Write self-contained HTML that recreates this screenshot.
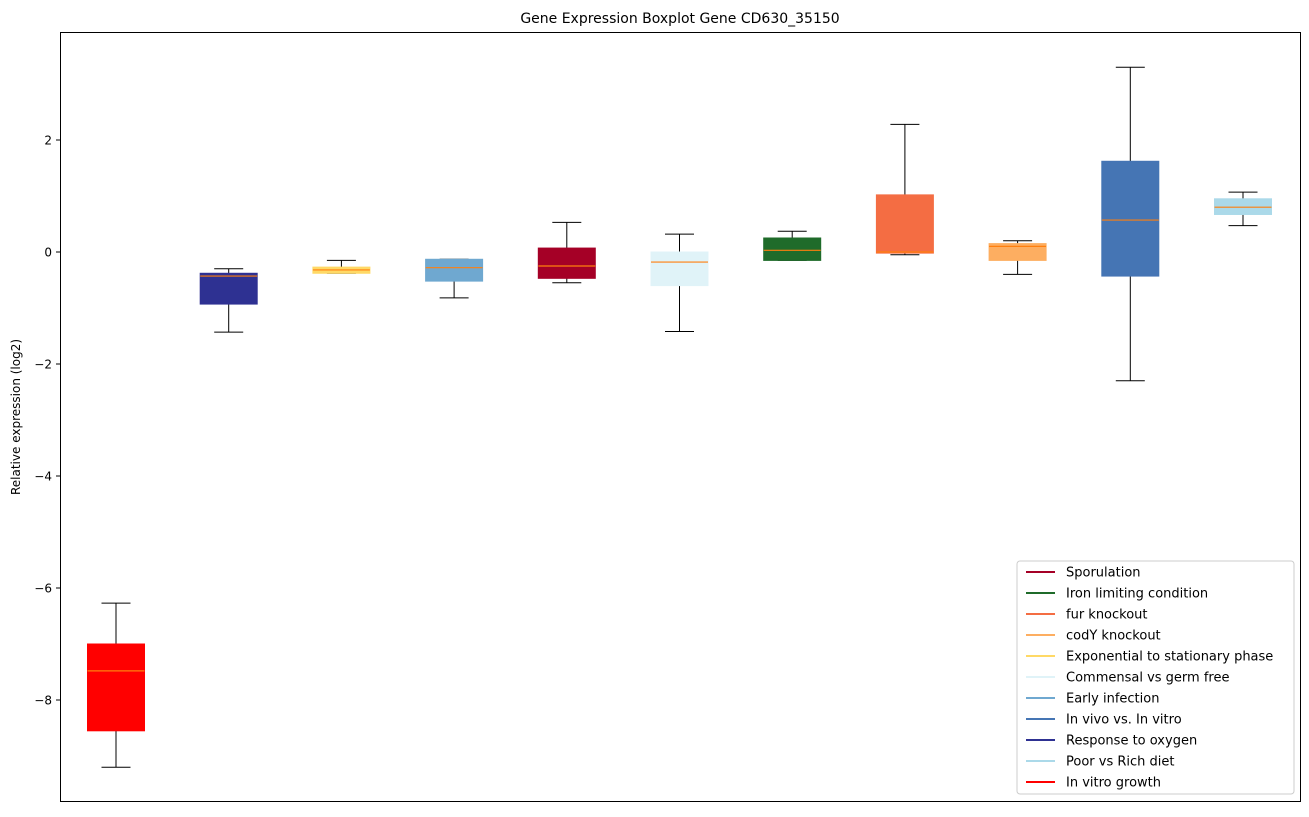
<!DOCTYPE html>
<html><head><meta charset="utf-8"><style>
body{margin:0;background:#fff;font-family:"Liberation Sans","DejaVu Sans",sans-serif}
svg text{font-family:"DejaVu Sans","Liberation Sans",sans-serif}
</style></head><body>
<svg id="chart" width="1309" height="812" xmlns="http://www.w3.org/2000/svg">
<rect width="1309" height="812" fill="#fff"/>
<text x="680" y="23" text-anchor="middle" font-size="14">Gene Expression Boxplot Gene CD630_35150</text>
<text transform="translate(20,417) rotate(-90)" text-anchor="middle" font-size="12">Relative expression (log2)</text>
<g id="boxes"></g>
<g id="yaxis"></g>
<rect x="60.5" y="32.5" width="1240" height="769" fill="none" stroke="#000" stroke-width="1"/>
<g id="legend"></g>
</svg>
<script>
const categories=["In vitro growth","Response to oxygen","Exponential to stationary phase","Early infection","Sporulation","Commensal vs germ free","Iron limiting condition","fur knockout","codY knockout","In vivo vs. In vitro","Poor vs Rich diet"];
const colors=["#ff0000","#2e3192","#ffd966","#6fa8d0","#a50026","#e0f3f8","#1f6b2a","#f46d43","#fdae61","#4575b4","#abd9e9"];
const whiskerLow=[-9.2,-1.43,-0.38,-0.82,-0.55,-1.42,-0.15,-0.05,-0.4,-2.3,0.47];
const q1=[-8.55,-0.93,-0.38,-0.52,-0.47,-0.6,-0.15,-0.02,-0.15,-0.43,0.67];
const medians=[-7.48,-0.43,-0.32,-0.28,-0.25,-0.18,0.03,0.0,0.1,0.57,0.8];
const q3=[-7.0,-0.38,-0.27,-0.13,0.07,0.0,0.25,1.02,0.15,1.62,0.95];
const whiskerHigh=[-6.27,-0.3,-0.15,-0.13,0.53,0.32,0.37,2.28,0.2,3.3,1.07];
const yTicks=[2,0,-2,-4,-6,-8];
const legendOrder=[4,6,7,8,2,5,3,9,1,10,0];
const NS="http://www.w3.org/2000/svg";
const y=v=>252-v*56;
const x=i=>116+i*112.7;
function mk(t,a,p){const e=document.createElementNS(NS,t);for(const k in a)e.setAttribute(k,a[k]);p.appendChild(e);return e;}
const gy=document.getElementById('yaxis');
yTicks.forEach(t=>{
 const l=mk('line',{x1:56,x2:60,y1:y(t),y2:y(t),stroke:'#000'},gy);
 
 
 const tx=mk('text',{x:52,y:y(t)+4.5,'text-anchor':'end','font-size':12},gy);
 tx.textContent=(t<0?'\u2212'+(-t):t);
 
 
});
const gb=document.getElementById('boxes');
categories.forEach((c,i)=>{
 const g=mk('g',{},gb);
 
 
 const cx=x(i),w=57,cw=29;
 mk('line',{x1:cx,x2:cx,y1:y(whiskerLow[i]),y2:y(q1[i]),stroke:'#000'},g);
 mk('line',{x1:cx,x2:cx,y1:y(q3[i]),y2:y(whiskerHigh[i]),stroke:'#000'},g);
 mk('line',{x1:cx-cw/2,x2:cx+cw/2,y1:y(whiskerLow[i]),y2:y(whiskerLow[i]),stroke:'#000'},g);
 mk('line',{x1:cx-cw/2,x2:cx+cw/2,y1:y(whiskerHigh[i]),y2:y(whiskerHigh[i]),stroke:'#000'},g);
 mk('rect',{x:cx-w/2,y:y(q3[i]),width:w,height:Math.max(1,y(q1[i])-y(q3[i])),fill:colors[i],stroke:colors[i]},g);
 mk('line',{x1:cx-w/2,x2:cx+w/2,y1:y(medians[i]),y2:y(medians[i]),stroke:'#ff7f0e','stroke-width':1.2},g);
});
const gl=document.getElementById('legend');


mk('rect',{x:1017,y:561,width:277,height:233,rx:3,fill:'#fff',stroke:'#ccc'},gl);
legendOrder.forEach((k,j)=>{
 const g=mk('g',{},gl);
 
 
 const yy=572+j*21;
 mk('line',{x1:1026,x2:1055,y1:yy,y2:yy,stroke:colors[k],'stroke-width':2},g);
 const t=mk('text',{x:1066,y:yy+4.5,'font-size':13},g);
 t.textContent=categories[k];
});
</script>
</body></html>
